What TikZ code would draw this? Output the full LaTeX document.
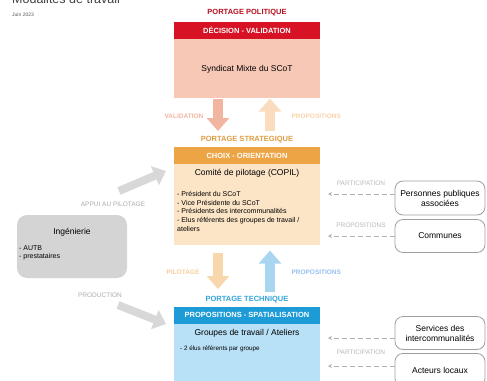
\documentclass[tikz,border=0pt]{standalone}
\usepackage{fontspec}
\setmainfont{Liberation Sans}
\usepackage{xcolor}
\definecolor{polred}{RGB}{214,18,36}
\definecolor{polbody}{RGB}{247,200,182}
\definecolor{strathead}{RGB}{236,164,68}
\definecolor{stratbody}{RGB}{252,228,198}
\definecolor{techhead}{RGB}{28,155,214}
\definecolor{techbody}{RGB}{184,224,246}
\definecolor{valarrow}{RGB}{242,182,160}
\definecolor{proparrow}{RGB}{250,220,190}
\definecolor{pilarrow}{RGB}{248,215,172}
\definecolor{bluearrow}{RGB}{168,214,240}
\definecolor{ingegray}{RGB}{212,212,212}
\usetikzlibrary{arrows.meta, positioning, calc}

\begin{document}
\begin{tikzpicture}[x=1pt, y=-1pt,
    head/.style={minimum width=146pt, minimum height=17pt, inner sep=0pt,
      text=white, font=\bfseries\fontsize{7.5}{9}\selectfont},
    body/.style={minimum width=146pt, inner sep=0pt, anchor=north},
    level/.style={font=\bfseries\fontsize{7.5}{9}\selectfont},
    flow/.style={line width=10pt, -{Triangle[width=22pt,length=13pt]}},
    grayflow/.style={line width=8pt, draw=ingegray!90!white,
      -{Triangle[width=20pt,length=12pt]}},
    flowlabel/.style={font=\fontsize{6.5}{8}\selectfont},
    side/.style={rectangle, rounded corners=8pt, draw=gray!75, line width=0.8pt,
      fill=white, minimum width=90pt, align=center, inner sep=1pt,
      font=\fontsize{8.5}{10}\selectfont},
    dasharrow/.style={draw=gray!60, line width=0.8pt, dash pattern=on 5pt off 3pt,
      -{Stealth[length=4pt,width=4pt]}},
    listtext/.style={anchor=north west, align=left, inner sep=0pt,
      font=\fontsize{7}{8.8}\selectfont}
]
\useasboundingbox (0,0) rectangle (487,380);
\clip (0,0) rectangle (487,380);
\fill[white] (0,0) rectangle (487,380);

% titre
\node[anchor=base west, inner sep=0pt, text=gray!50!black,
  font=\fontsize{12.5}{14}\selectfont] (titre) at (12,3) {Modalités de travail};
\node[anchor=west, inner sep=0pt, text=gray!70!black,
  font=\fontsize{5}{6}\selectfont] (date) at (12,15) {Juin 2023};

% portage politique
\node[level, text=polred!85!black] (polit) at (247,13) {PORTAGE POLITIQUE};
\node[head, fill=polred] (decis) at (247,30.5) {DÉCISION - VALIDATION};
\node[body, fill=polbody, minimum height=59pt, font=\fontsize{8.5}{10}\selectfont]
  (synd) at (decis.south) {Syndicat Mixte du SCoT};

% portage strategique
\node[level, text=strathead!95!black] (strat) at (247,140) {PORTAGE STRATEGIQUE};
\node[head, fill=strathead] (choix) at (247,155.5) {CHOIX - ORIENTATION};
\node[body, fill=stratbody, minimum height=81pt] (copil) at (choix.south) {};
\node[font=\fontsize{8.5}{10}\selectfont, below=4.5pt of copil.north, inner sep=0pt]
  (copiltitle) {Comité de pilotage (COPIL)};
\node[listtext] (copillist) at (177,191) {- Président du SCoT\\- Vice Présidente du SCoT\\
  - Présidents des intercommunalités\\- Elus référents des groupes de travail /\\ateliers};

% portage technique
\node[level, text=techhead!90!white] (techn) at (247,300) {PORTAGE TECHNIQUE};
\node[head, fill=techhead] (propos) at (247,315) {PROPOSITIONS - SPATIALISATION};
\node[body, fill=techbody, minimum height=80pt] (groupes) at (propos.south) {};
\node[font=\fontsize{8.5}{10}\selectfont, below=5pt of groupes.north, inner sep=0pt]
  (groupestitle) {Groupes de travail / Ateliers};
\node[listtext, font=\fontsize{6.3}{8}\selectfont] (groupeslist) at (180,346)
  {- 2 élus référents par groupe};

% fleches verticales
\coordinate (valend) at (218,131);
\coordinate (propstart) at (270,131);
\draw[flow, draw=valarrow] (synd.south -| valend) -- (valend);
\draw[flow, draw=proparrow] (propstart) -- (synd.south -| propstart);
\node[flowlabel, text=valarrow, font=\bfseries\fontsize{6.5}{8}\selectfont]
  (vallabel) at (184,116) {VALIDATION};
\node[flowlabel, text=proparrow!90!orange, anchor=west, font=\bfseries\fontsize{6.5}{8}\selectfont]
  (proplabel) at (288,116) {PROPOSITIONS};

\coordinate (pilend) at (218,289);
\coordinate (bluestart) at (270,292);
\draw[flow, draw=pilarrow, shorten <=7pt] (copil.south -| pilend) -- (pilend);
\draw[flow, draw=bluearrow, shorten >=5pt] (bluestart) -- (copil.south -| bluestart);
\node[flowlabel, text=pilarrow!90!orange, font=\bfseries\fontsize{6.5}{8}\selectfont]
  (pillabel) at (183,272) {PILOTAGE};
\node[flowlabel, text=bluearrow!90!blue, anchor=west, font=\bfseries\fontsize{6.5}{8}\selectfont]
  (bluelabel) at (288,272) {PROPOSITIONS};

% ingenierie
\node[rectangle, rounded corners=10pt, fill=ingegray, minimum width=110pt,
  minimum height=63pt] (inge) at (72,246.5) {};
\node[font=\fontsize{8.5}{10}\selectfont, inner sep=0pt] (ingetitle) at (72,232) {Ingénierie};
\node[listtext, font=\fontsize{7}{8.5}\selectfont] (ingelist) at (19,245) {- AUTB\\- prestataires};

\coordinate (appuitail) at (119,191);
\coordinate (appuitip) at (166,171);
\coordinate (prodtail) at (118,305);
\coordinate (prodtip) at (166,324);
\draw[grayflow] (appuitail) -- (appuitip);
\draw[grayflow] (prodtail) -- (prodtip);
\node[flowlabel, text=gray!65] (appuilabel) at (113,204) {APPUI AU PILOTAGE};
\node[flowlabel, text=gray!65] (prodlabel) at (100,295) {PRODUCTION};

% acteurs a droite
\node[side, minimum height=34pt] (ppa) at (440,198) {Personnes publiques\\associées};
\node[side, minimum height=33pt] (communes) at (440,236) {Communes};
\node[side, minimum height=33pt] (services) at (440,333) {Services des\\intercommunalités};
\node[side, minimum height=33pt] (acteurs) at (440,370) {Acteurs locaux};

\draw[dasharrow] (ppa.west |- 0,194) -- (328,194);
\draw[dasharrow] (communes.west) -- (328,236);
\draw[dasharrow] (services.west |- 0,338) -- (328,338);
\draw[dasharrow] (acteurs.west |- 0,366) -- (328,366);
\node[flowlabel, text=gray!55] (partlabel) at (361,183) {PARTICIPATION};
\node[flowlabel, text=gray!55] (proplabeltwo) at (361,225) {PROPOSITIONS};
\node[flowlabel, text=gray!55] (partlabeltwo) at (361,352) {PARTICIPATION};
\end{tikzpicture}
\end{document}
